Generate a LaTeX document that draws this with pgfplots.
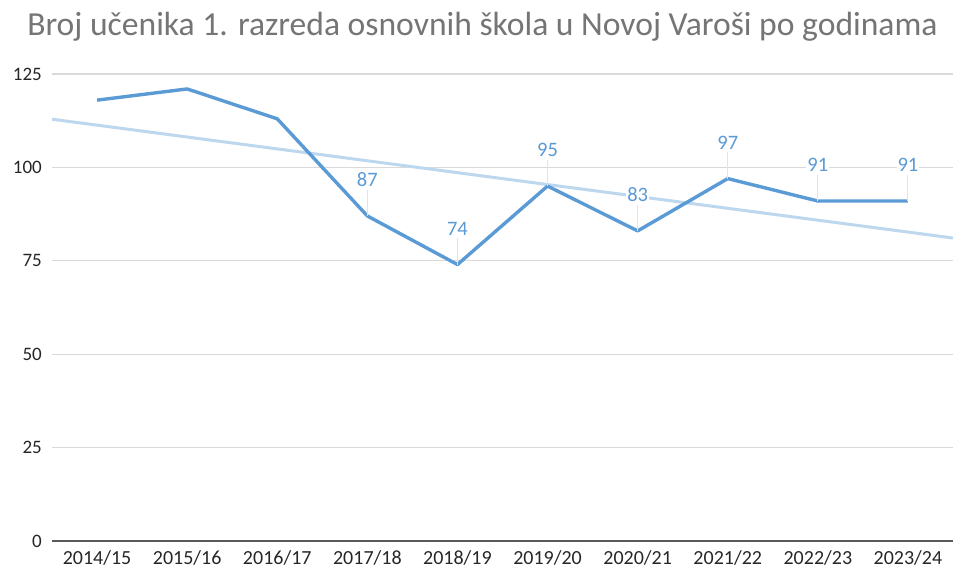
\documentclass[border=0pt]{standalone}
\usepackage{pgfplots}
\pgfplotsset{compat=1.18}
\usepackage{fontspec}
\setmainfont{Carlito}
\definecolor{mainblue}{HTML}{5B9BD5}
\definecolor{trendblue}{HTML}{BDD7EE}
\definecolor{gridgray}{HTML}{D9D9D9}
\definecolor{axisgray}{HTML}{595959}
\definecolor{titlegray}{HTML}{757575}
\definecolor{ticktext}{HTML}{262626}
\definecolor{leadergray}{HTML}{E3E3E3}
\begin{document}
\begin{tikzpicture}[x=1pt,y=1pt]
\path[use as bounding box] (0,0) rectangle (953,569);
\node[anchor=base, text=titlegray, inner sep=0pt, font=\fontsize{33.6}{34}\selectfont] at (482.5,533) {Broj učenika 1. razreda osnovnih škola u Novoj Varoši po godinama};
\begin{axis}[
  at={(52pt,28pt)}, anchor=south west,
  scale only axis, width=901pt, height=467pt,
  xmin=-0.5, xmax=9.5, ymin=0, ymax=125,
  xtick={0,...,9},
  xticklabels={2014/15,2015/16,2016/17,2017/18,2018/19,2019/20,2020/21,2021/22,2022/23,2023/24},
  ytick={0,25,50,75,100,125},
  axis x line=bottom, axis y line=left,
  x axis line style={-, draw=axisgray, line width=1.5pt},
  y axis line style={draw=none},
  major tick length=0pt,
  ymajorgrids, grid style={color=gridgray, line width=1.3pt},
  /pgf/number format/assume math mode=true,
  tick label style={text=ticktext},
  xticklabel style={font=\fontsize{20}{20}\selectfont, anchor=north, inner sep=0pt, yshift=-9.5pt},
  yticklabel style={font=\fontsize{19}{19}\selectfont, anchor=east, inner sep=0pt, xshift=-10pt},
]
\addplot[color=trendblue, line width=3pt] coordinates {(-0.5,112.9) (9.5,81.1)};
\addplot[color=mainblue, line width=3.4pt, line join=round] coordinates {
  (0,118) (1,121) (2,113) (3,87) (4,74) (5,95) (6,83) (7,97) (8,91) (9,91)};
\addplot[only marks, mark=*, mark size=0pt, mark options={draw=none, fill=none},
  point meta=y,
  nodes near coords,
  every node near coord/.append style={font=\fontsize{20.5}{20.5}\selectfont, text=mainblue, anchor=south, inner sep=1pt, fill=white, yshift=28pt},
  error bars/.cd, y dir=plus, y fixed=7, error mark=none,
  error bar style={color=leadergray, line width=1pt}]
  coordinates {(3,87) (4,74) (5,95) (6,83) (7,97) (8,91) (9,91)};
\end{axis}
\end{tikzpicture}
\end{document}
